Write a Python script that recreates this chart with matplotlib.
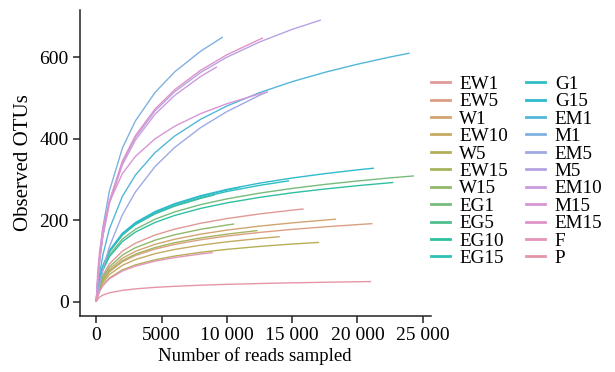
import numpy as np
import matplotlib
matplotlib.use("Agg")
import matplotlib.pyplot as plt
from matplotlib.ticker import FuncFormatter

plt.rcParams['font.family'] = ['Liberation Serif', 'DejaVu Serif']

depth_grid = [0, 100, 250, 500, 1000, 2000, 3000, 4500, 6000, 8000,
              10000, 12500, 15000, 17500, 20000, 22500]

labels = ["EW1", "EW5", "W1", "EW10", "W5", "EW15", "W15", "EG1", "EG5",
          "EG10", "EG15", "G1", "G15", "EM1", "M1", "EM5", "M5", "EM10",
          "M15", "EM15", "F", "P"]

# last depth of each curve
end_reads = [15830, 21100, 18300, 14000, 17020, 12310, 10520, 24280, 9000,
             22700, 10980, 14720, 21220, 23950, 9656, 13090, 17150, 9200,
             13090, 12720, 8870, 21000]

# observed OTUs at depth_grid points (then the end point)
ew1 = [2, 21.1, 42.2, 65.2, 93.2, 124.7, 144.2, 164.2, 178.6, 193.1, 204.5, 215.9, 225.2, 228]
ew5 = [2, 16.6, 33.3, 51.5, 73.7, 98.6, 114.0, 129.8, 141.1, 152.6, 161.6, 170.6, 178.0, 184.3, 189.7, 192]
w1 = [2, 18.1, 36.3, 56.1, 80.3, 107.4, 124.2, 141.4, 153.8, 166.4, 176.2, 186.0, 194.0, 200.8, 203]
ew10 = [2, 15.2, 30.4, 47.0, 67.2, 89.9, 104.0, 118.4, 128.8, 139.3, 147.5, 155.7, 160]
w5 = [2, 13.3, 26.6, 41.1, 58.8, 78.7, 91.0, 103.5, 112.6, 121.8, 129.0, 136.2, 142.1, 146]
ew15 = [2, 17.1, 34.3, 53.0, 75.8, 101.4, 117.3, 133.5, 145.3, 157.1, 166.3, 175]
w15 = [2, 19.4, 38.9, 60.1, 86.0, 115.1, 133.1, 151.5, 164.8, 178.3, 188.7, 191]
eg1 = [2, 26.0, 52.1, 80.6, 115.2, 154.2, 178.3, 203.0, 220.8, 238.8, 252.8, 266.9, 278.5, 288.3, 296.7, 304.3, 309]
eg5 = [2, 27.7, 55.5, 85.7, 122.6, 164.0, 189.7, 215.9, 234.9, 254.0, 262]
eg10 = [2, 25.0, 50.1, 77.4, 110.7, 148.2, 171.4, 195.1, 212.2, 229.5, 243.0, 256.5, 267.7, 277.0, 285.2, 292.4, 293]
eg15 = [2, 28.3, 56.6, 87.5, 125.1, 167.4, 193.6, 220.4, 239.7, 259.2, 274.5, 281]
g1 = [2, 27.9, 55.9, 86.3, 123.5, 165.2, 191.1, 217.5, 236.6, 255.9, 270.9, 286.0, 297]
g15 = [2, 28.4, 56.9, 88.0, 125.8, 168.3, 194.7, 221.6, 241.1, 260.7, 276.0, 291.4, 304.0, 314.7, 324.0, 328]
em1 = [2, 30.7, 67.5, 114.2, 178.8, 259.0, 311.3, 366.4, 406.9, 448.2, 480.6, 513.4, 540.3, 563.2, 583.1, 600.8, 610]
m1 = [2, 53.3, 112.3, 181.8, 271.7, 377.5, 444.3, 513.8, 564.2, 615.2, 649]
em5 = [2, 18.6, 43.4, 78.9, 134.9, 213.9, 269.9, 332.0, 378.9, 427.8, 466.9, 506.8, 515]
m5 = [2, 47.0, 99.7, 162.6, 244.9, 342.3, 404.2, 468.6, 515.5, 563.0, 600.3, 637.6, 668.6, 691]
em10 = [2, 46.2, 98.0, 159.8, 240.6, 336.4, 397.2, 460.5, 506.5, 553.2, 576]
m15 = [2, 66.4, 123.4, 180.0, 244.8, 314.8, 357.1, 400.1, 430.9, 462.0, 486.1, 510.3, 515]
em15 = [2, 47.5, 100.7, 164.2, 247.3, 345.7, 408.2, 473.2, 520.5, 568.5, 606.2, 643.9, 647]
f = [2, 12.8, 25.7, 39.7, 56.8, 76.0, 87.9, 100.1, 108.9, 117.7, 121]
p = [2, 6.5, 11.7, 16.8, 22.4, 28.5, 32.1, 35.8, 38.4, 41.1, 43.2, 45.2, 46.9, 48.3, 49.6, 50]

series = [ew1, ew5, w1, ew10, w5, ew15, w15, eg1, eg5, eg10, eg15, g1, g15,
          em1, m1, em5, m5, em10, m15, em15, f, p]


def hue_pal(n, c=100, l=65, fade=0.0):
    # ggplot2 style hue palette (HCL -> sRGB), optionally faded towards white
    hues = np.linspace(15, 375, n + 1)[:-1]
    xn, yn, zn = 95.047, 100.0, 108.883
    un = 4 * xn / (xn + 15 * yn + 3 * zn)
    vn = 9 * yn / (xn + 15 * yn + 3 * zn)
    m = np.array([[3.2404542, -1.5371385, -0.4985314],
                  [-0.9692660, 1.8760108, 0.0415560],
                  [0.0556434, -0.2040259, 1.0572252]])
    out = []
    for h in hues:
        u = c * np.cos(np.radians(h))
        v = c * np.sin(np.radians(h))
        Y = yn * ((l + 16) / 116) ** 3
        up = u / (13 * l) + un
        vp = v / (13 * l) + vn
        X = 9 * Y * up / (4 * vp)
        Z = -X / 3 - 5 * Y + 3 * Y / vp
        rgb = m @ (np.array([X, Y, Z]) / 100)
        rgb = np.clip(rgb, 0, 1)
        rgb = np.where(rgb > 0.0031308, 1.055 * rgb ** (1 / 2.4) - 0.055, 12.92 * rgb)
        rgb = np.clip(rgb, 0, 1)
        out.append(rgb + (1 - rgb) * fade)
    return out


colors = hue_pal(len(labels), c=62, l=64, fade=0.18)

fig = plt.figure(figsize=(6.15, 3.72), dpi=100)
ax = fig.add_axes([0.130, 0.151, 0.570, 0.822])

for lab, ys, xe, col in zip(labels, series, end_reads, colors):
    xs = depth_grid[:len(ys) - 1] + [xe]
    ax.plot(xs, ys, color=col, lw=1.0, label=lab)

ax.set_xlim(-1250, 25600)
ax.set_ylim(-34, 716)
ax.set_xticks([0, 5000, 10000, 15000, 20000, 25000])
ax.set_yticks([0, 200, 400, 600])


def fmt(v, pos):
    v = int(v)
    if v >= 10000:
        return f"{v:,}".replace(",", " ")
    return str(v)


ax.xaxis.set_major_formatter(FuncFormatter(fmt))
for s in ["top", "right"]:
    ax.spines[s].set_visible(False)
for s in ["left", "bottom"]:
    ax.spines[s].set_linewidth(1.1)
    ax.spines[s].set_color("#222222")
ax.tick_params(direction="out", length=5, width=1.1, labelsize=14, colors="#222222",
               labelcolor="black", pad=3)

ax.set_xlabel("Number of reads sampled", fontsize=13.5, labelpad=2)
ax.set_ylabel("Observed OTUs", fontsize=15, labelpad=5)

handles, _ = ax.get_legend_handles_labels()
leg = fig.legend(handles, labels, ncol=2, loc="upper left",
                 bbox_to_anchor=(0.700, 0.797), frameon=False,
                 fontsize=13.8, handlelength=1.0, handletextpad=0.5,
                 labelspacing=0.0, columnspacing=0.95,
                 borderaxespad=0, borderpad=0)
for h in leg.get_lines():
    h.set_linewidth(2.0)

fig.savefig("out.png", dpi=100)
